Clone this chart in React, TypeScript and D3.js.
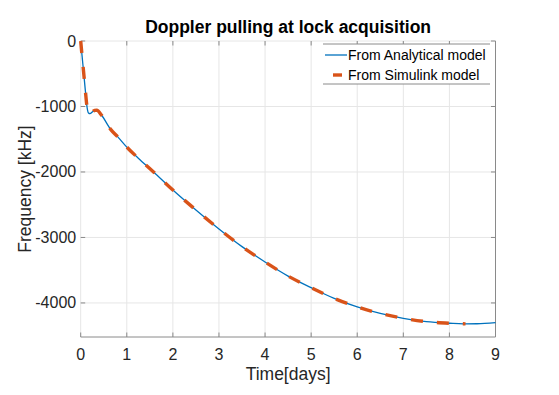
import React, { useEffect, useRef } from "react";
import * as d3 from "d3";

// analytical model (full span)
const analyticalDays = [
  0, 0.03, 0.06, 0.1, 0.14, 0.17, 0.2, 0.25, 0.3, 0.35, 0.45, 0.65, 0.8, 1.0,
  1.25, 1.58, 2.0, 2.5, 3.0, 3.5, 4.0, 4.5, 5.0, 5.5, 6.0, 6.5, 7.0, 7.5, 8.0,
  8.3, 8.6, 9.0,
];
const analyticalKHz = [
  0, -230, -450, -750, -1020, -1100, -1110, -1085, -1060, -1058, -1130, -1350,
  -1460, -1620, -1790, -2000, -2275, -2580, -2870, -3140, -3375, -3590, -3766,
  -3930, -4061, -4160, -4234, -4285, -4310, -4320, -4318, -4300,
];

// simulink model (stops a little before day 9)
const simulinkDays = [
  0, 0.03, 0.06, 0.1, 0.14, 0.17, 0.2, 0.25, 0.3, 0.35, 0.45, 0.65, 0.8, 1.0,
  1.25, 1.58, 2.0, 2.5, 3.0, 3.5, 4.0, 4.5, 5.0, 5.5, 6.0, 6.5, 7.0, 7.5, 8.0,
  8.35,
];
const simulinkKHz = [
  0, -230, -450, -750, -1020, -1100, -1110, -1085, -1060, -1058, -1130, -1350,
  -1460, -1620, -1790, -2000, -2275, -2580, -2870, -3140, -3375, -3590, -3766,
  -3930, -4061, -4160, -4234, -4285, -4310, -4320,
];

const xTicks = [0, 1, 2, 3, 4, 5, 6, 7, 8, 9];
const yTicks = [0, -1000, -2000, -3000, -4000];
const legendLabels = ["From Analytical model", "From Simulink model"];

const FONT = "'Liberation Sans', Arial, Helvetica, sans-serif";
const BLUE = "#0072BD";
const ORANGE = "#D95319";
const TEXT = "#262626";
const AXIS = "#8a8a8a";
const GRID = "#e6e6e6";

export default function App() {
  const ref = useRef<SVGSVGElement | null>(null);

  useEffect(() => {
    if (!ref.current) return;
    const svg = d3.select(ref.current);
    svg.selectAll("*").remove();

    const left = 80.7;
    const right = 495.5;
    const top = 41;
    const bottom = 337;

    const x = d3.scaleLinear().domain([0, 9]).range([left, right]);
    const y = d3.scaleLinear().domain([-4520, 0]).range([bottom, top]);

    // grid
    const grid = svg.append("g");
    grid
      .selectAll(".gx")
      .data(xTicks)
      .enter()
      .append("line")
      .attr("x1", (d) => x(d))
      .attr("x2", (d) => x(d))
      .attr("y1", top)
      .attr("y2", bottom)
      .attr("stroke", GRID)
      .attr("stroke-width", 1);
    grid
      .selectAll(".gy")
      .data(yTicks)
      .enter()
      .append("line")
      .attr("x1", left)
      .attr("x2", right)
      .attr("y1", (d) => y(d))
      .attr("y2", (d) => y(d))
      .attr("stroke", GRID)
      .attr("stroke-width", 1);

    // axis lines (bottom + right only, as in the picture)
    svg
      .append("line")
      .attr("x1", left)
      .attr("x2", right)
      .attr("y1", bottom)
      .attr("y2", bottom)
      .attr("stroke", AXIS);
    svg
      .append("line")
      .attr("x1", right)
      .attr("x2", right)
      .attr("y1", top)
      .attr("y2", bottom)
      .attr("stroke", AXIS);

    // ticks
    const tk = 4.5;
    xTicks.forEach((t) => {
      svg.append("line").attr("x1", x(t)).attr("x2", x(t))
        .attr("y1", bottom).attr("y2", bottom - tk).attr("stroke", AXIS);
      svg.append("line").attr("x1", x(t)).attr("x2", x(t))
        .attr("y1", top).attr("y2", top + tk).attr("stroke", AXIS);
    });
    yTicks.forEach((t) => {
      svg.append("line").attr("x1", left).attr("x2", left + tk)
        .attr("y1", y(t)).attr("y2", y(t)).attr("stroke", AXIS);
      svg.append("line").attr("x1", right).attr("x2", right - tk)
        .attr("y1", y(t)).attr("y2", y(t)).attr("stroke", AXIS);
    });

    // tick labels
    svg
      .selectAll(".xl")
      .data(xTicks)
      .enter()
      .append("text")
      .attr("x", (d) => x(d))
      .attr("y", bottom + 23)
      .attr("text-anchor", "middle")
      .attr("font-family", FONT)
      .attr("font-size", 16)
      .attr("fill", TEXT)
      .text((d) => d);
    svg
      .selectAll(".yl")
      .data(yTicks)
      .enter()
      .append("text")
      .attr("x", left - 4.5)
      .attr("y", (d) => y(d) + 5.5)
      .attr("text-anchor", "end")
      .attr("font-family", FONT)
      .attr("font-size", 16)
      .attr("fill", TEXT)
      .text((d) => d);

    // series
    const line = d3
      .line<number>()
      .curve(d3.curveMonotoneX);

    const aPts = analyticalDays.map((d, i) => [x(d), y(analyticalKHz[i])] as [number, number]);
    const sPts = simulinkDays.map((d, i) => [x(d), y(simulinkKHz[i])] as [number, number]);
    const path = d3.line().curve(d3.curveMonotoneX);

    svg
      .append("path")
      .attr("d", path(aPts))
      .attr("fill", "none")
      .attr("stroke", BLUE)
      .attr("stroke-width", 1.3);
    svg
      .append("path")
      .attr("d", path(sPts))
      .attr("fill", "none")
      .attr("stroke", ORANGE)
      .attr("stroke-width", 3.4)
      .attr("stroke-dasharray", "12,14");

    // legend
    const lg = svg.append("g");
    lg.append("rect")
      .attr("x", 323)
      .attr("y", 44)
      .attr("width", 167)
      .attr("height", 40)
      .attr("fill", "white");
    [44, 84].forEach((yy) =>
      lg.append("line").attr("x1", 323).attr("x2", 490)
        .attr("y1", yy).attr("y2", yy).attr("stroke", AXIS)
    );
    lg.append("line").attr("x1", 325).attr("x2", 347)
      .attr("y1", 55).attr("y2", 55).attr("stroke", BLUE).attr("stroke-width", 1.3);
    lg.append("line").attr("x1", 333).attr("x2", 342)
      .attr("y1", 75).attr("y2", 75).attr("stroke", ORANGE).attr("stroke-width", 3.4);
    legendLabels.forEach((label, i) =>
      lg.append("text")
        .attr("x", 348)
        .attr("y", 60 + i * 20)
        .attr("font-family", FONT)
        .attr("font-size", 14)
        .attr("fill", "#000")
        .text(label)
    );

    // titles
    svg
      .append("text")
      .attr("x", (left + right) / 2)
      .attr("y", 33)
      .attr("text-anchor", "middle")
      .attr("font-family", FONT)
      .attr("font-size", 17.5)
      .attr("font-weight", "bold")
      .attr("fill", "#000")
      .text("Doppler pulling at lock acquisition");
    svg
      .append("text")
      .attr("x", (left + right) / 2)
      .attr("y", 380)
      .attr("text-anchor", "middle")
      .attr("font-family", FONT)
      .attr("font-size", 17.5)
      .attr("fill", TEXT)
      .text("Time[days]");
    svg
      .append("text")
      .attr("transform", `translate(31,${(top + bottom) / 2}) rotate(-90)`)
      .attr("text-anchor", "middle")
      .attr("font-family", FONT)
      .attr("font-size", 17.5)
      .attr("fill", TEXT)
      .text("Frequency [kHz]");
  }, []);

  return (
    <svg
      ref={ref}
      width={559}
      height={395}
      style={{ position: "absolute", left: 0, top: 0, background: "white" }}
    />
  );
}
